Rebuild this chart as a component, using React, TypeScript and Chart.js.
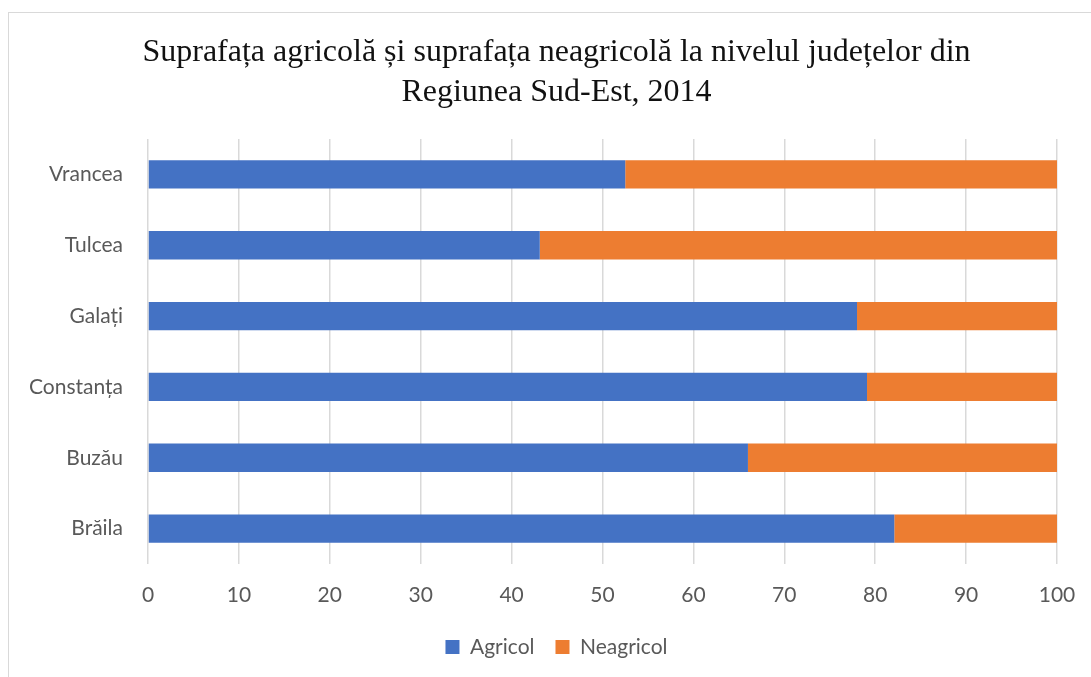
import React, { useEffect, useRef } from "react";
import { Chart, registerables } from "chart.js";

Chart.register(...registerables);

const categories = ["Vrancea", "Tulcea", "Galați", "Constanța", "Buzău", "Brăila"];
const agricol = [52.5, 43.1, 78.0, 79.1, 66.0, 82.1];
const neagricol = [47.5, 56.9, 22.0, 20.9, 34.0, 17.9];
const seriesNames = ["Agricol", "Neagricol"];
const titleLines = [
  "Suprafața agricolă și suprafața neagricolă la nivelul județelor din",
  "Regiunea Sud-Est, 2014",
];

const LABEL_FONT = "21px Lato";

export default function App() {
  const ref = useRef<HTMLCanvasElement | null>(null);

  useEffect(() => {
    if (!ref.current) return;
    const ctx = ref.current.getContext("2d");
    let widest = 0;
    if (ctx) {
      ctx.font = LABEL_FONT;
      for (const c of categories) widest = Math.max(widest, ctx.measureText(c).width);
    }
    const chart = new Chart(ref.current, {
      type: "bar",
      data: {
        labels: categories,
        datasets: [
          {
            label: seriesNames[0],
            data: agricol,
            backgroundColor: "#4472C4",
            barPercentage: 0.4,
            categoryPercentage: 1,
          },
          {
            label: seriesNames[1],
            data: neagricol,
            backgroundColor: "#ED7D31",
            barPercentage: 0.4,
            categoryPercentage: 1,
          },
        ],
      },
      options: {
        indexAxis: "y",
        responsive: false,
        animation: false,
        layout: { padding: { left: 56, right: 34, top: 0, bottom: 9.5 } },
        scales: {
          x: {
            stacked: true,
            min: 0,
            max: 100,
            ticks: {
              stepSize: 10,
              color: "#595959",
              font: { family: "Lato", size: 21 },
              padding: 0,
            },
            grid: {
              color: "#d9d9d9",
              lineWidth: 1.5,
              drawTicks: true,
              tickLength: 19,
              tickColor: "rgba(0,0,0,0)",
            },
            border: { display: false },
            afterFit: (s: any) => {
              s.height = 51.5;
            },
          },
          y: {
            stacked: true,
            ticks: {
              color: "#595959",
              font: { family: "Lato", size: 21 },
              mirror: true,
              crossAlign: "far",
              padding: -25 - widest,
            },
            grid: { display: false, drawTicks: false },
            border: { display: false },
            afterFit: (s: any) => {
              s.width = 92;
            },
          },
        },
        plugins: {
          title: {
            display: true,
            text: titleLines,
            color: "#111111",
            font: { family: "Liberation Serif", size: 32, weight: "normal", lineHeight: 1.25 },
            padding: { top: 33, bottom: 26 },
          },
          legend: {
            position: "bottom",
            labels: {
              boxWidth: 14,
              boxHeight: 14,
              color: "#595959",
              font: { family: "Lato", size: 21 },
              padding: 21,
            },
          },
          tooltip: { enabled: false },
        },
      },
    } as any);
    return () => chart.destroy();
  }, []);

  return (
    <div style={{ position: "fixed", left: 0, top: 0, width: 1091, height: 677, background: "#fff", overflow: "hidden" }}>
      <div
        style={{
          position: "absolute",
          left: 8,
          top: 12,
          width: 1100,
          height: 700,
          border: "1.5px solid #d9d9d9",
          boxSizing: "border-box",
        }}
      />
      <canvas ref={ref} width={1091} height={677} style={{ position: "absolute", left: 0, top: 0 }} />
    </div>
  );
}
